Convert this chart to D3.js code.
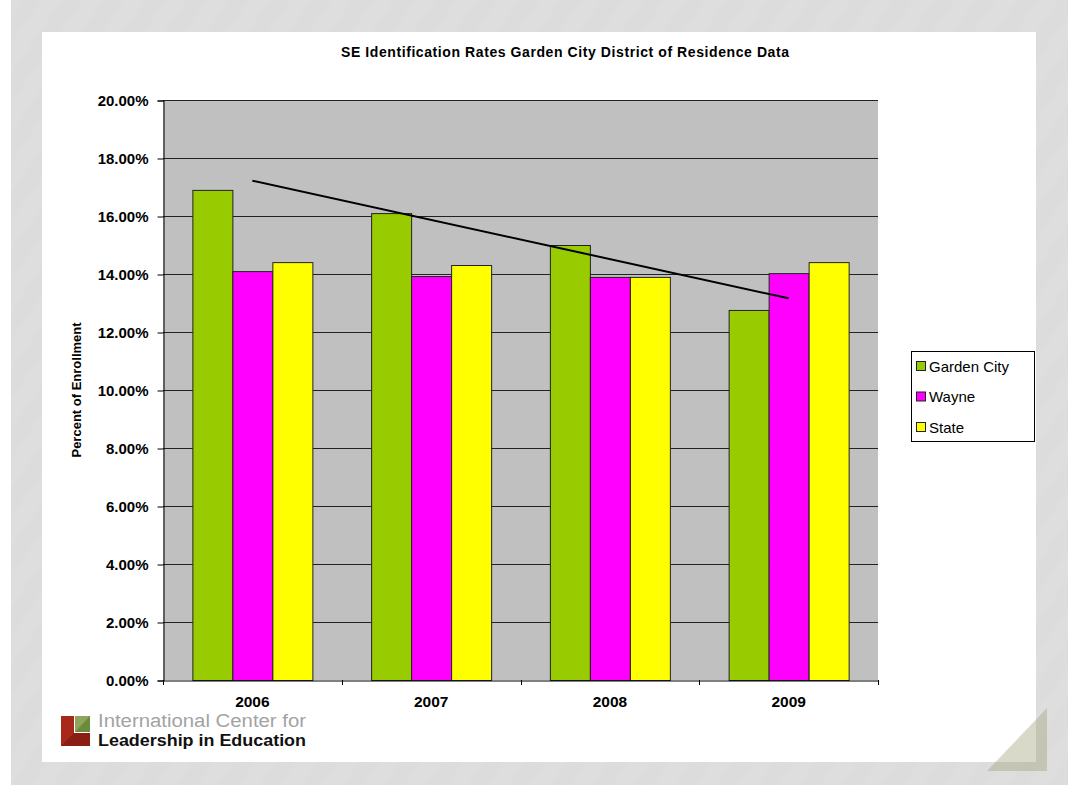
<!DOCTYPE html>
<html lang="en">
  <head>
    <meta charset="utf-8">
    <title>SE Identification Rates Garden City District of Residence Data</title>
    <style>
      body {
        margin: 0;
        background: #fff;
      }
      svg {
        display: block;
        font-family: "Liberation Sans", Arial, sans-serif;
      }
      .tick text {
        font-weight: bold;
      }
    </style>
    <script src="https://cdn.jsdelivr.net/npm/d3@7"></script>
  </head>
  <body>
    <div id="chart"></div>

    <script>
      // ************** Data *****************
      var years = ["2006", "2007", "2008", "2009"];
      var seriesNames = ["Garden City", "Wayne", "State"];
      var gardenCity = [16.9, 16.1, 15.0, 12.76];
      var wayne = [14.1, 13.93, 13.9, 14.03];
      var state = [14.41, 14.31, 13.9, 14.41];
      var yTicks = [0, 2, 4, 6, 8, 10, 12, 14, 16, 18, 20];
      var colors = ["#99cc00", "#ff00ff", "#ffff00"];

      var seriesValues = [gardenCity, wayne, state];

      var width = 1068,
          height = 786;

      var plot = {left: 163, right: 878, top: 100, bottom: 680};

      var svg = d3.select("#chart").append("svg")
          .attr("width", width)
          .attr("height", height);

      // faint diagonal texture for the slide background
      var defs = svg.append("defs");
      var pat = defs.append("pattern")
          .attr("id", "stripes")
          .attr("patternUnits", "userSpaceOnUse")
          .attr("width", 34)
          .attr("height", 34)
          .attr("patternTransform", "rotate(35)");
      pat.append("rect").attr("width", 17).attr("height", 34).attr("fill", "#fff").attr("opacity", 0.06);

      svg.append("rect")
          .attr("x", 11).attr("y", 0)
          .attr("width", width - 11).attr("height", height - 1)
          .attr("fill", "#dcdcdc");
      svg.append("rect")
          .attr("x", 11).attr("y", 0)
          .attr("width", width - 11).attr("height", height - 1)
          .attr("fill", "url(#stripes)");

      // white slide panel
      svg.append("rect")
          .attr("x", 42).attr("y", 32)
          .attr("width", 994).attr("height", 730)
          .attr("fill", "#fff");
      svg.append("rect")
          .attr("x", 42).attr("y", 32)
          .attr("width", 994).attr("height", 730)
          .attr("fill", "url(#stripes)")
          .attr("opacity", 0.4);

      // ************** Scales *****************
      var x = d3.scaleBand()
          .domain(years)
          .range([plot.left, plot.right])
          .paddingInner(0.3287)
          .paddingOuter(0.1643);

      var xSeries = d3.scaleBand()
          .domain(seriesNames)
          .range([0, x.bandwidth()]);

      var y = d3.scaleLinear()
          .domain([0, 20])
          .range([plot.bottom, plot.top]);

      // plot area
      svg.append("rect")
          .attr("x", plot.left).attr("y", plot.top)
          .attr("width", plot.right - plot.left)
          .attr("height", plot.bottom - plot.top)
          .attr("fill", "#c0c0c0");

      // gridlines
      svg.append("g")
          .selectAll("line")
          .data(yTicks.slice(1))
          .enter().append("line")
          .attr("x1", plot.left).attr("x2", plot.right)
          .attr("y1", function(d) { return Math.round(y(d)) + 0.5; })
          .attr("y2", function(d) { return Math.round(y(d)) + 0.5; })
          .attr("stroke", "#222")
          .attr("stroke-width", 1);

      // bars
      var groups = svg.append("g")
          .selectAll("g")
          .data(years)
          .enter().append("g")
          .attr("transform", function(d) { return "translate(" + x(d) + ",0)"; });

      groups.selectAll("rect")
          .data(function(d, i) {
            return seriesNames.map(function(s, j) {
              return {series: s, value: seriesValues[j][i], color: colors[j]};
            });
          })
          .enter().append("rect")
          .attr("x", function(d) { return xSeries(d.series) + 0.5; })
          .attr("y", function(d) { return y(d.value) + 0.5; })
          .attr("width", xSeries.bandwidth())
          .attr("height", function(d) { return y(0) - y(d.value); })
          .attr("fill", function(d) { return d.color; })
          .attr("stroke", "#222")
          .attr("stroke-width", 1);

      // linear trendline for Garden City
      var n = gardenCity.length,
          mx = d3.mean(gardenCity, function(d, i) { return i + 1; }),
          my = d3.mean(gardenCity);
      var sxy = d3.sum(gardenCity, function(d, i) { return (i + 1 - mx) * (d - my); }),
          sxx = d3.sum(gardenCity, function(d, i) { return (i + 1 - mx) * (i + 1 - mx); });
      var slope = sxy / sxx,
          intercept = my - slope * mx;

      svg.append("line")
          .attr("x1", x(years[0]) + x.bandwidth() / 2)
          .attr("y1", y(intercept + slope * 1))
          .attr("x2", x(years[n - 1]) + x.bandwidth() / 2)
          .attr("y2", y(intercept + slope * n))
          .attr("stroke", "#000")
          .attr("stroke-width", 2);

      // ************** Axes *****************
      var yAxis = svg.append("g")
          .attr("transform", "translate(" + (plot.left + 0.5) + ",0.5)")
          .call(d3.axisLeft(y)
            .tickValues(yTicks)
            .tickSize(6)
            .tickPadding(9)
            .tickFormat(function(d) { return d3.format(".2f")(d) + "%"; }));
      yAxis.select(".domain").attr("stroke", "#000");
      yAxis.selectAll("line").attr("stroke", "#000");
      yAxis.selectAll("text")
          .attr("font-size", 15)
          .attr("font-family", "Liberation Sans, Arial, sans-serif")
          .attr("fill", "#000");

      var xAxis = svg.append("g")
          .attr("transform", "translate(0," + (plot.bottom + 0.5) + ")")
          .call(d3.axisBottom(x).tickSize(0).tickPadding(15));
      xAxis.select(".domain").attr("stroke", "#000");
      xAxis.selectAll("text")
          .attr("font-size", 15.5)
          .attr("font-family", "Liberation Sans, Arial, sans-serif")
          .attr("fill", "#000");

      // category boundary ticks
      var bounds = years.map(function(d) { return x(d) - x.step() * x.paddingInner() / 2; });
      bounds.push(plot.right);
      svg.append("g")
          .selectAll("line")
          .data(bounds)
          .enter().append("line")
          .attr("x1", function(d) { return Math.round(d) + 0.5; })
          .attr("x2", function(d) { return Math.round(d) + 0.5; })
          .attr("y1", plot.bottom)
          .attr("y2", plot.bottom + 5)
          .attr("stroke", "#000");

      // ************** Titles *****************
      svg.append("text")
          .attr("x", 565)
          .attr("y", 57)
          .attr("text-anchor", "middle")
          .attr("font-size", 14)
          .attr("font-weight", "bold")
          .attr("textLength", 448)
          .text("SE Identification Rates Garden City District of Residence Data");

      svg.append("text")
          .attr("transform", "translate(81,390) rotate(-90)")
          .attr("text-anchor", "middle")
          .attr("font-size", 13)
          .attr("font-weight", "bold")
          .text("Percent of Enrollment");

      // ************** Legend *****************
      var legend = svg.append("g");
      legend.append("rect")
          .attr("x", 911.5).attr("y", 351.5)
          .attr("width", 123).attr("height", 90)
          .attr("fill", "#fff")
          .attr("stroke", "#000");

      var items = legend.selectAll("g.item")
          .data(seriesNames)
          .enter().append("g")
          .attr("class", "item")
          .attr("transform", function(d, i) { return "translate(0," + (366 + i * 30.5) + ")"; });
      items.append("rect")
          .attr("x", 916.5).attr("y", -4.5)
          .attr("width", 9).attr("height", 9)
          .attr("fill", function(d, i) { return colors[i]; })
          .attr("stroke", "#222");
      items.append("text")
          .attr("x", 929)
          .attr("y", 5.5)
          .attr("font-size", 15)
          .text(function(d) { return d; });

      // ************** Logo *****************
      var logo = svg.append("g");
      logo.append("path")
          .attr("d", "M61,716 H74 V733 H90 V746 H61 Z")
          .attr("fill", "#a8281a");
      logo.append("path")
          .attr("d", "M61,746 L74,733 H90 V746 Z")
          .attr("fill", "#8a1e12");
      logo.append("rect")
          .attr("x", 75).attr("y", 716)
          .attr("width", 15).attr("height", 16)
          .attr("fill", "#8fa45c");
      logo.append("path")
          .attr("d", "M75,732 L90,716 V732 Z")
          .attr("fill", "#6a8a3c");
      logo.append("text")
          .attr("x", 98).attr("y", 727)
          .attr("font-size", 18)
          .attr("fill", "#a3a3a3")
          .attr("textLength", 208)
          .attr("lengthAdjust", "spacingAndGlyphs")
          .text("International Center for");
      logo.append("text")
          .attr("x", 98).attr("y", 746)
          .attr("font-size", 17)
          .attr("font-weight", "bold")
          .attr("fill", "#111")
          .attr("textLength", 208)
          .attr("lengthAdjust", "spacingAndGlyphs")
          .text("Leadership in Education");

      // corner triangle
      svg.append("path")
          .attr("d", "M1047,708 L1047,771 L987,771 Z")
          .attr("fill", "#a0a078")
          .attr("opacity", 0.4);
    </script>
  </body>
</html>
